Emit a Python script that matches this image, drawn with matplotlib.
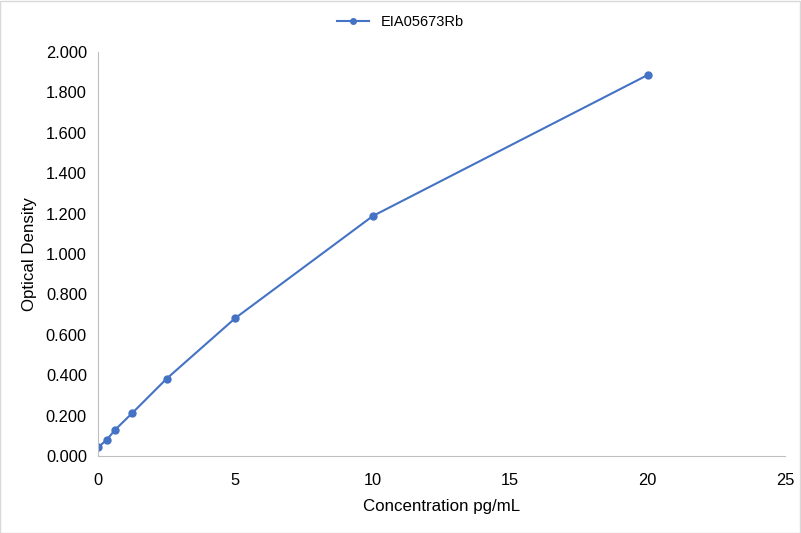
import matplotlib
matplotlib.use("Agg")
import matplotlib.pyplot as plt
from matplotlib.ticker import FormatStrFormatter

conc = [0, 0.3125, 0.625, 1.25, 2.5, 5, 10, 20]
od = [0.043, 0.079, 0.130, 0.213, 0.383, 0.683, 1.188, 1.886]
series_name = "EIA05673Rb"

plt.rcParams['font.family'] = ['Liberation Sans', 'DejaVu Sans']

fig = plt.figure(figsize=(8.01, 5.33), dpi=100)
ax = fig.add_axes([98/801, 1-456/533, (785-98)/801, (456-52)/533])
color = '#4472C4'
ax.plot(conc, od, color=color, lw=1.5, marker='o', ms=5, label=series_name)
ax.set_xlim(0, 25)
ax.set_ylim(0, 2.0)
ax.set_xticks([0, 5, 10, 15, 20, 25])
ax.set_yticks([0, 0.2, 0.4, 0.6, 0.8, 1.0, 1.2, 1.4, 1.6, 1.8, 2.0])
ax.yaxis.set_major_formatter(FormatStrFormatter('%.3f'))
for s in ['top', 'right']:
    ax.spines[s].set_visible(False)
for s in ['left', 'bottom']:
    ax.spines[s].set_color('#BFBFBF')
ax.tick_params(axis='both', length=0, labelsize=11.8, colors='#000000')
ax.tick_params(axis='x', pad=12)
ax.tick_params(axis='y', pad=8)
ax.set_xlabel('Concentration pg/mL', fontsize=12.2, labelpad=8)
ax.set_ylabel('Optical Density', fontsize=12.2, labelpad=6)
fig.legend(loc='upper center', bbox_to_anchor=(0.5, 0.997), frameon=False, fontsize=10.5,
           handlelength=2.2, markerscale=0.8)
fig.patches.append(plt.Rectangle((0.0005, 0.0005), 0.998, 0.998, transform=fig.transFigure,
                                 fill=False, edgecolor='#D9D9D9', lw=1))
fig.savefig('out.png', dpi=100)
